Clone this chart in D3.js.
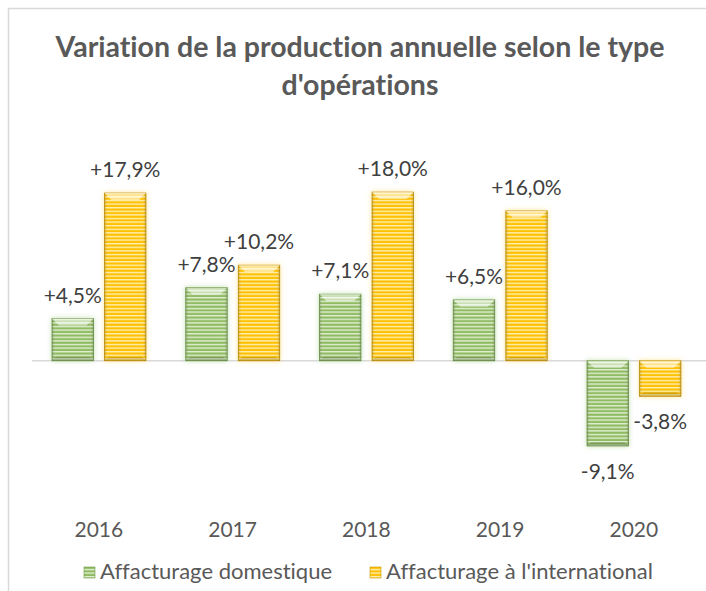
<!DOCTYPE html>
<meta charset="utf-8">
<head>
  <title>Variation de la production</title>
</head>
<style>
  body { margin: 0; background: #fff; }
  text { font-family: Lato, "Open Sans", sans-serif; font-variant-ligatures: none; }
</style>
<body>
<div id="chart"></div>
<script src="https://d3js.org/d3.v7.min.js"></script>
<script>

// data
var years = ["2016", "2017", "2018", "2019", "2020"];
var series = ["Affacturage domestique", "Affacturage à l'international"];
var domestique = [4.5, 7.8, 7.1, 6.5, -9.1];
var international = [17.9, 10.2, 18.0, 16.0, -3.8];

var W = 706, H = 591;

var svg = d3.select("#chart").append("svg")
  .attr("width", W).attr("height", H);

// stripes, bevel, glow
var defs = svg.append("defs");
function stripes(id, base, light) {
  var p = defs.append("pattern")
    .attr("id", id).attr("patternUnits", "userSpaceOnUse")
    .attr("width", 8).attr("height", 3.6);
  p.append("rect").attr("width", 8).attr("height", 3.6).attr("fill", base);
  p.append("rect").attr("y", 1.8).attr("width", 8).attr("height", 1.4).attr("fill", light);
}
stripes("stripeGreen", "#8fbb62", "#e2efd3");
stripes("stripeYellow", "#ffc000", "#fff0b3");

var shade = defs.append("linearGradient").attr("id", "shade")
  .attr("x1", 0).attr("x2", 1).attr("y1", 0).attr("y2", 0);
shade.append("stop").attr("offset", "0%").attr("stop-color", "#000").attr("stop-opacity", 0.18);
shade.append("stop").attr("offset", "10%").attr("stop-color", "#fff").attr("stop-opacity", 0);
shade.append("stop").attr("offset", "90%").attr("stop-color", "#fff").attr("stop-opacity", 0);
shade.append("stop").attr("offset", "100%").attr("stop-color", "#000").attr("stop-opacity", 0.2);

var glowColors = ["#a9d18e", "#ffd966"];
glowColors.forEach(function(c, i) {
  defs.append("filter").attr("id", "glow" + i)
    .attr("x", "-30%").attr("y", "-30%").attr("width", "160%").attr("height", "160%")
    .append("feDropShadow")
    .attr("dx", 0).attr("dy", 0).attr("stdDeviation", 2.5)
    .attr("flood-color", c).attr("flood-opacity", 0.7);
});

// frame of the chart area (cropped)
svg.append("path")
  .attr("d", "M8.5," + H + "V8.5H" + W)
  .attr("fill", "none").attr("stroke", "#d9d9d9").attr("stroke-width", 1.5);

// title
var title = svg.append("text")
  .attr("text-anchor", "middle")
  .attr("fill", "#595959")
  .style("font-size", "28.5px").style("font-weight", "bold");
title.append("tspan").attr("x", 360).attr("y", 57)
  .text("Variation de la production annuelle selon le type");
title.append("tspan").attr("x", 360).attr("y", 95)
  .text("d'opérations");

// scales
var x = d3.scaleBand().domain(years).range([32, 700.75]);
var xInner = d3.scaleBand().domain(series)
  .range([20, 114]).paddingInner(0.21).paddingOuter(0);
var y = d3.scaleLinear().domain([-9.1, 17.9]).range([446, 193]);
var colors = ["url(#stripeGreen)", "url(#stripeYellow)"];
var strokes = ["#6f9a47", "#c99700"];

// zero line
svg.append("line")
  .attr("x1", 32).attr("x2", W)
  .attr("y1", y(0)).attr("y2", y(0))
  .attr("stroke", "#d9d9d9").attr("stroke-width", 1.5);

var rows = [];
years.forEach(function(yr, i) {
  rows.push({ year: yr, key: series[0], s: 0, v: domestique[i] });
  rows.push({ year: yr, key: series[1], s: 1, v: international[i] });
});

var bars = svg.append("g").selectAll("g").data(rows).enter().append("g");

function bx(d) { return x(d.year) + xInner(d.key); }
function by(d) { return y(Math.max(0, d.v)); }
function bh(d) { return Math.abs(y(d.v) - y(0)); }
var bw = xInner.bandwidth();

bars.append("rect")
  .attr("x", bx).attr("y", by)
  .attr("width", bw).attr("height", bh)
  .attr("fill", function(d) { return colors[d.s]; })
  .attr("stroke", function(d) { return strokes[d.s]; })
  .attr("stroke-width", 0.8)
  .attr("filter", function(d) { return "url(#glow" + d.s + ")"; });

bars.append("rect")
  .attr("x", bx).attr("y", by)
  .attr("width", bw).attr("height", bh)
  .attr("fill", "url(#shade)");

// top bevel highlight
bars.append("path")
  .attr("d", function(d) {
    var x0 = bx(d), y0 = by(d), b = Math.min(7, bh(d) / 2);
    return "M" + x0 + "," + y0 + "H" + (x0 + bw) + "L" + (x0 + bw - b) + "," + (y0 + b) +
      "H" + (x0 + b) + "Z";
  })
  .attr("fill", "#fff").attr("fill-opacity", 0.55);

// bottom bevel shadow
bars.append("path")
  .attr("d", function(d) {
    var x0 = bx(d), y1 = by(d) + bh(d), b = Math.min(4, bh(d) / 3);
    return "M" + x0 + "," + y1 + "H" + (x0 + bw) + "L" + (x0 + bw - b) + "," + (y1 - b) +
      "H" + (x0 + b) + "Z";
  })
  .attr("fill", "#000").attr("fill-opacity", 0.15);

// data labels
var fmt = function(v) { return (v > 0 ? "+" : "") + v.toFixed(1).replace(".", ",") + "%"; };
bars.append("text")
  .attr("x", function(d) { return bx(d) + bw / 2; })
  .attr("y", function(d) { return d.v >= 0 ? y(d.v) - 16 : y(d.v) + 33; })
  .attr("text-anchor", "middle")
  .attr("fill", "#404040")
  .style("font-size", "21px")
  .text(function(d) { return fmt(d.v); });

// x axis labels
svg.append("g").selectAll("text").data(years).enter().append("text")
  .attr("x", function(d) { return x(d) + x.bandwidth() / 2; })
  .attr("y", 537)
  .attr("text-anchor", "middle")
  .attr("fill", "#595959")
  .style("font-size", "21px")
  .text(function(d) { return d; });

// legend
var legX = [84, 370];
var leg = svg.append("g").selectAll("g").data(series).enter().append("g")
  .attr("transform", function(d, i) { return "translate(" + legX[i] + ",567)"; });
leg.append("rect")
  .attr("width", 11).attr("height", 11)
  .attr("fill", function(d, i) { return colors[i]; })
  .attr("stroke", function(d, i) { return strokes[i]; })
  .attr("stroke-width", 0.6);
leg.append("text")
  .attr("x", 16).attr("y", 12)
  .attr("fill", "#595959")
  .style("font-size", "22px")
  .text(function(d) { return d; });

</script>
</body>
</html>
